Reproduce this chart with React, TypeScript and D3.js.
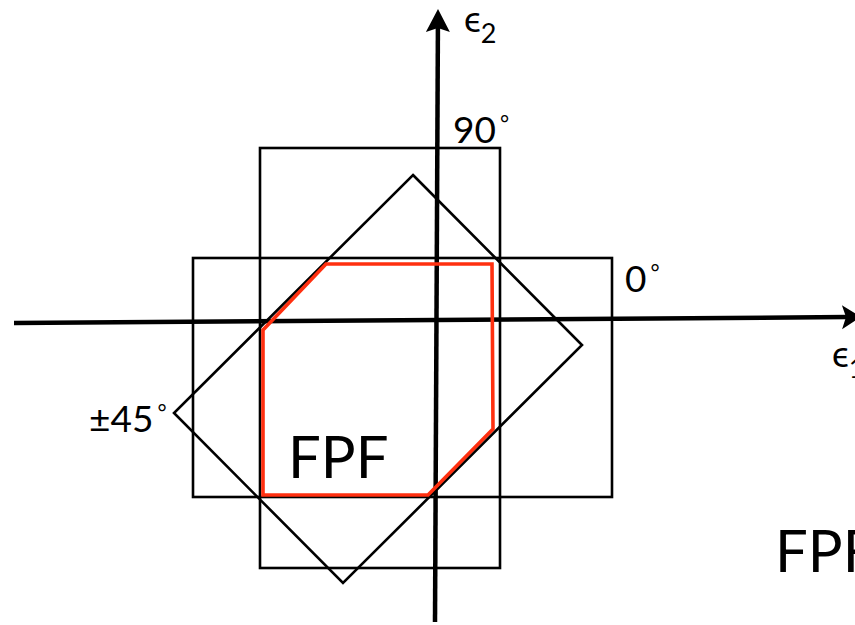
import React from "react";
import * as d3 from "d3";

// Data coordinates (strain units), origin at the axes crossing
const xAxisLine: [number, number][] = [[-42.3, -0.3], [42.4, 0.3]];
const yAxisLine: [number, number][] = [[-0.2, -30.2], [0.1, 31.1]];

const rect0 = { x0: -24.4, x1: 17.5, y0: -17.7, y1: 6.2 };
const rect90 = { x0: -17.7, x1: 6.3, y0: -24.8, y1: 17.2 };
const diamond45: [number, number][] = [
  [-2.4, 14.5],
  [14.5, -2.5],
  [-9.4, -26.3],
  [-26.3, -9.3],
];
const fpfEnvelope: [number, number][] = [
  [-11.1, 5.6],
  [5.5, 5.6],
  [5.6, -10.9],
  [-0.9, -17.5],
  [-17.4, -17.5],
  [-17.4, -1.0],
];

const plyLabels = [
  { text: "90", x: 1.6, y: 17.7 },
  { text: "0", x: 18.8, y: 2.8 },
  { text: "±45", x: -34.8, y: -11.2 },
];
const fpfLabels = [
  { text: "FPF", x: -14.9, y: -15.8 },
  { text: "FPF", x: 33.8, y: -25.2 },
];
const axisLabels = [
  { main: "ϵ", sub: "2", x: 2.7, y: 28.8 },
  { main: "ϵ", sub: "1", x: 39.5, y: -4.7 },
];

const W = 855;
const H = 625;
const x = d3.scaleLinear().domain([-43.7, 41.8]).range([0, W]);
const y = d3.scaleLinear().domain([-30.5, 32]).range([H, 0]);

const FONT = "Lato, 'Open Sans', 'DejaVu Sans', sans-serif";

function arrowHead(from: [number, number], to: [number, number], len: number, half: number, notch: number) {
  const fx = x(from[0]), fy = y(from[1]);
  const tx = x(to[0]), ty = y(to[1]);
  const dx = tx - fx, dy = ty - fy;
  const L = Math.hypot(dx, dy);
  const ux = dx / L, uy = dy / L;
  const px = -uy, py = ux;
  const bx = tx - ux * len, by = ty - uy * len;
  const p = d3.path();
  p.moveTo(tx, ty);
  p.lineTo(bx + px * half, by + py * half);
  p.lineTo(tx - ux * (len - notch), ty - uy * (len - notch));
  p.lineTo(bx - px * half, by - py * half);
  p.closePath();
  return { d: p.toString(), bx: tx - ux * (len - notch - 1), by: ty - uy * (len - notch - 1) };
}

export default function App() {
  const line = d3.line<[number, number]>().x((d) => x(d[0])).y((d) => y(d[1]));
  const closed = (pts: [number, number][]) => line(pts)! + "Z";

  const ha = arrowHead(xAxisLine[0], xAxisLine[1], 19, 12, 4);
  const va = arrowHead(yAxisLine[0], yAxisLine[1], 23, 12, 4);

  return (
    <svg
      width={W}
      height={H}
      style={{ position: "absolute", left: 0, top: 0, background: "#fff" }}
      fontFamily={FONT}
    >
      {/* ply failure envelopes */}
      <rect
        x={x(rect0.x0)}
        y={y(rect0.y1)}
        width={x(rect0.x1) - x(rect0.x0)}
        height={y(rect0.y0) - y(rect0.y1)}
        fill="none"
        stroke="#000"
        strokeWidth={2.6}
      />
      <rect
        x={x(rect90.x0)}
        y={y(rect90.y1)}
        width={x(rect90.x1) - x(rect90.x0)}
        height={y(rect90.y0) - y(rect90.y1)}
        fill="none"
        stroke="#000"
        strokeWidth={2.6}
      />
      <path d={closed(diamond45)} fill="none" stroke="#000" strokeWidth={2.6} />

      {/* axes */}
      <line
        x1={x(xAxisLine[0][0])}
        y1={y(xAxisLine[0][1])}
        x2={ha.bx}
        y2={ha.by}
        stroke="#000"
        strokeWidth={4.5}
      />
      <path d={ha.d} fill="#000" />
      <line
        x1={x(yAxisLine[0][0])}
        y1={y(yAxisLine[0][1])}
        x2={va.bx}
        y2={va.by}
        stroke="#000"
        strokeWidth={4.5}
      />
      <path d={va.d} fill="#000" />

      {/* FPF envelope */}
      <path
        d={closed(fpfEnvelope)}
        fill="none"
        stroke="#ff3010"
        strokeWidth={3.6}
        strokeLinejoin="miter"
      />

      {/* ply labels */}
      {plyLabels.map((l, i) => (
        <text key={i} x={x(l.x)} y={y(l.y)} fontSize={37} fill="#000">
          {l.text}
          <tspan fontSize={22} dy={-12} dx={4}>°</tspan>
        </text>
      ))}

      {fpfLabels.map((l, i) => (
        <text key={"f" + i} x={x(l.x)} y={y(l.y)} fontSize={58} fill="#000">
          {l.text}
        </text>
      ))}

      {axisLabels.map((l, i) => (
        <text key={"a" + i} x={x(l.x)} y={y(l.y)} fontSize={36} fill="#000">
          {l.main}
          <tspan fontSize={27} dy={11}>{l.sub}</tspan>
        </text>
      ))}
    </svg>
  );
}
